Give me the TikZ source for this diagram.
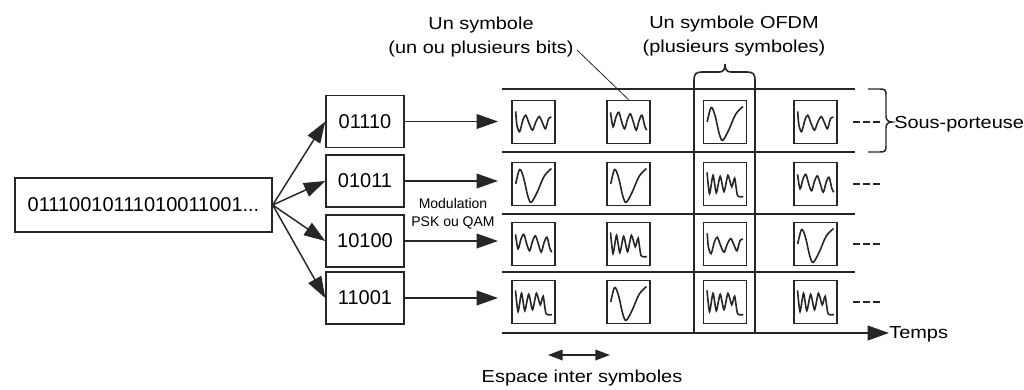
\documentclass[tikz,border=0pt]{standalone}
\usepackage{fontspec}
\setmainfont{Liberation Sans}
\newfontfamily\widesans{Liberation Sans}[FakeStretch=1.15]
\usetikzlibrary{arrows.meta}

% waveform glyphs drawn inside the symbol boxes (local units, y up)
\tikzset{
  wave/.style={line width=1.2pt, draw=black!85, x=14.5pt, y=14.5pt},
  pics/wavA/.style={code={\draw[wave] plot[smooth,tension=0.5] coordinates {
    (-0.92,0.55) (-0.86,-0.15) (-0.72,-0.5) (-0.55,0.1) (-0.4,0.35) (-0.22,-0.1)
    (-0.05,-0.42) (0.12,0.0) (0.3,0.28) (0.48,-0.08) (0.62,-0.35) (0.78,0.18) (0.93,0.25)};}},
  pics/wavB/.style={code={\draw[wave] plot[smooth,tension=0.5] coordinates {
    (-0.93,0.5) (-0.8,-0.25) (-0.65,0.25) (-0.5,0.5) (-0.35,0.0) (-0.2,-0.35)
    (-0.05,0.15) (0.1,0.42) (0.25,0.0) (0.4,-0.42) (0.55,0.08) (0.7,0.35) (0.85,-0.25) (0.95,-0.42)};}},
  pics/spiky/.style={code={\draw[wave] plot[smooth,tension=0.4] coordinates {
    (-0.93,0.6) (-0.8,-0.5) (-0.62,0.45) (-0.45,-0.45) (-0.25,0.4) (-0.05,-0.4)
    (0.15,0.45) (0.35,-0.15) (0.5,0.3) (0.65,-0.6) (0.95,-0.65)};}},
  pics/bigV/.style={code={\draw[wave] plot[smooth,tension=0.55] coordinates {
    (-0.92,0.0) (-0.72,0.75) (-0.52,0.35) (-0.3,-0.6) (-0.12,-0.95) (0.2,-0.4) (0.55,0.4) (0.93,0.8)};}},
}

\begin{document}
\begin{tikzpicture}[x=0.75pt, y=-0.75pt,
  ink/.style={draw=black!85, line width=1.1pt},
  bitsfont/.style={font=\fontsize{15}{18}\selectfont},
  lbl/.style={font=\widesans\fontsize{13}{18}\selectfont, inner sep=0pt, align=center},
  bitbox/.style={ink, rectangle, inner sep=0pt, bitsfont},
  grp/.style={bitbox, minimum width=58.5pt, minimum height=39pt},
  symb/.style={ink, line width=1.3pt, rectangle, minimum size=32.25pt, inner sep=0pt},
  arr/.style={ink, -{Triangle[length=16pt,width=11pt]}},
  grid/.style={draw=black!85, line width=1.3pt},
  dots/.style={ink, line width=1.3pt, dash pattern=on 5.25pt off 2.25pt},
]
\useasboundingbox (0,0) rectangle (1024,389);

% bit stream and its split into groups
\node[bitbox, minimum width=192.75pt, minimum height=40.5pt] (bits) at (143.5,205) {01110010111010011001...};
\node[grp] (g1) at (365,121.5) {01110};
\node[grp] (g2) at (365,181) {01011};
\node[grp] (g3) at (365,241) {10100};
\node[grp] (g4) at (365,298) {11001};
\foreach \g in {g1,g2,g3,g4} \draw[arr] (bits.east) -- (\g.west);

\coordinate (modx) at (498,0);
\foreach \g in {g1,g2,g3,g4} \draw[arr] (\g.east) -- (\g.east -| modx);
\node[font=\fontsize{10.5}{13.5}\selectfont, align=center, inner sep=0pt] (mod) at (453,214) {Modulation\\PSK ou QAM};

% sub-carrier bands
\foreach \y in {89,152,214,272} \draw[grid] (502,\y) -- (855,\y);
\coordinate (t0) at (502,333);
\node[lbl, anchor=base west] (temps) at (889,338) {Temps};
\draw[arr, line width=1.3pt] (t0) -- (t0 -| temps.west);

% symbol boxes
\foreach \r/\y in {1/122,2/184,3/244,4/302}
  \foreach \c/\x in {1/533.5,2/628.5,3/725,4/815.5}
    \node[symb] (s\r\c) at (\x,\y) {};

\pic at (s11) {wavA}; \pic at (s12) {wavB}; \pic at (s13) {bigV};  \pic at (s14) {wavA};
\pic at (s21) {bigV}; \pic at (s22) {bigV}; \pic at (s23) {spiky}; \pic at (s24) {wavB};
\pic at (s31) {wavB}; \pic at (s32) {spiky}; \pic at (s33) {wavA}; \pic at (s34) {bigV};
\pic at (s41) {spiky}; \pic at (s42) {bigV}; \pic at (s43) {spiky}; \pic at (s44) {spiky};

% continuation marks
\foreach \y in {122,184,244,302} \draw[dots] (853,\y) -- (880,\y);

% one OFDM symbol: a column of the grid
\draw[ink, line width=1.2pt] (694,333) -- (694,80) .. controls (694,74) and (696,72) .. (702,72)
  -- (719,72) .. controls (723,72) and (725,70) .. (725,64)
  .. controls (725,70) and (727,72) .. (731,72) -- (747,72)
  .. controls (753,72) and (755,74) .. (755,80) -- (755,333);

% one sub-carrier: a row of the grid
\draw[ink] (868,89) -- (880,89) .. controls (885,89) and (886,90) .. (886,95) -- (886,116)
  .. controls (886,120) and (888,122) .. (892,122)
  .. controls (888,122) and (886,124) .. (886,128) -- (886,146)
  .. controls (886,151) and (885,152) .. (880,152) -- (868,152);
\node[lbl, anchor=base west] (sp) at (894,128) {Sous-porteuse};

% labels on top
\node[lbl] (sym) at (481,37) {Un symbole\\(un ou plusieurs bits)};
\coordinate (lead) at (577,50);
\draw[draw=black!85, line width=0.6pt] (lead) -- (s12.north);
\node[lbl] (ofdm) at (734,36) {Un symbole OFDM\\(plusieurs symboles)};

% spacing between symbols
\coordinate (espL) at (548,355);
\coordinate (espR) at (610,355);
\draw[ink, {Triangle[length=11pt,width=8pt]}-{Triangle[length=11pt,width=8pt]}] (espL) -- (espR);
\node[lbl] (esp) at (582,378) {Espace inter symboles};
\end{tikzpicture}
\end{document}
